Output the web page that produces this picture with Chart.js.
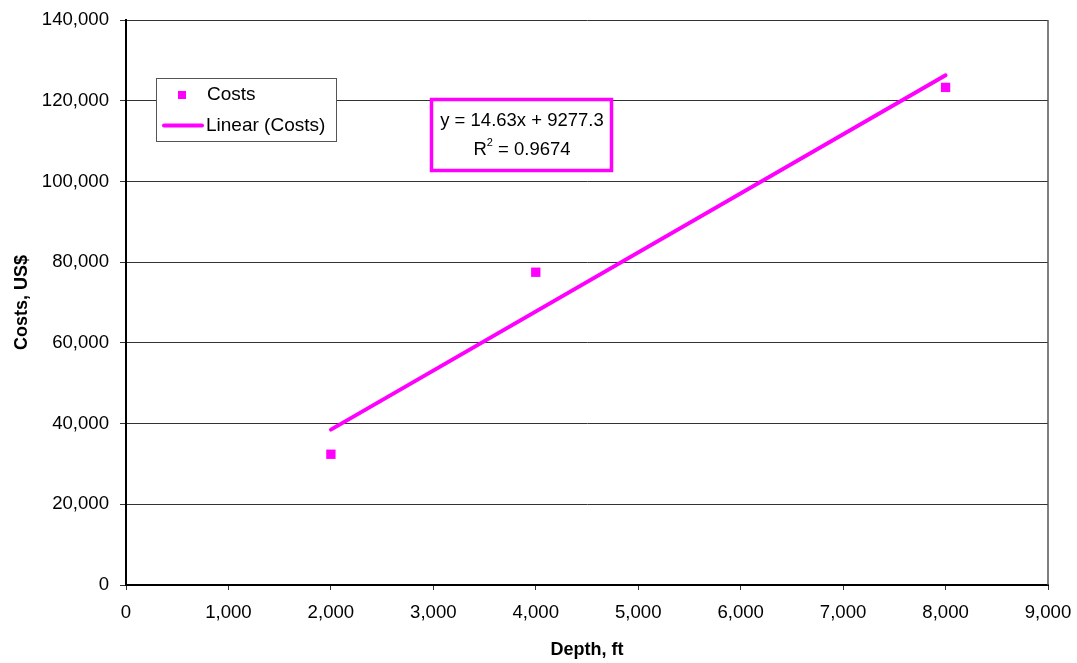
<!DOCTYPE html>
<html>
<head>
<meta charset="utf-8">
<script src="https://cdn.jsdelivr.net/npm/chart.js@4"></script>
<style>
  html, body { margin: 0; padding: 0; background: #fff; }
  #c { display: block; }
</style>
</head>
<body>
<canvas id="c" width="1077" height="663"></canvas>
<script>
// ---- data ----
const depths = [2000, 4000, 8000];          // ft
const costs = [32400, 77500, 123300];       // US$
const trendDepths = [2000, 8000];           // ends of the linear trend line
const trendCosts = [38500, 126300];
const xTicks = [0, 1000, 2000, 3000, 4000, 5000, 6000, 7000, 8000, 9000];
const yTicks = [0, 20000, 40000, 60000, 80000, 100000, 120000, 140000];
const seriesName = 'Costs';
const trendName = 'Linear (Costs)';
const equationText = 'y = 14.63x + 9277.3';
const r2Text = '0.9674';
const xTitle = 'Depth, ft';
const yTitle = 'Costs, US$';

const MAGENTA = '#FF00FF';
const FONT = "'Liberation Sans', Arial, sans-serif";
Chart.defaults.font.family = FONT;
Chart.defaults.color = '#000';

const fmt = v => Number(v).toLocaleString('en-US');

const overlay = {
  id: 'overlay',
  beforeDatasetsDraw(chart) {
    const {ctx, chartArea: a} = chart;
    ctx.save();
    ctx.strokeStyle = '#555';
    ctx.lineWidth = 1.5;
    ctx.beginPath();
    ctx.moveTo(a.right, a.top);
    ctx.lineTo(a.right, a.bottom);
    ctx.stroke();
    ctx.restore();
  },
  afterDraw(chart) {
    const {ctx} = chart;
    ctx.save();
    // legend box
    ctx.fillStyle = '#fff';
    ctx.fillRect(156, 78, 180, 64);
    ctx.strokeStyle = '#555';
    ctx.lineWidth = 1;
    ctx.strokeRect(156.5, 78.5, 180, 63);
    ctx.fillStyle = MAGENTA;
    ctx.fillRect(178, 91, 8, 8);
    ctx.strokeStyle = MAGENTA;
    ctx.lineWidth = 4;
    ctx.lineCap = 'round';
    ctx.beginPath();
    ctx.moveTo(164, 125.5);
    ctx.lineTo(202, 125.5);
    ctx.stroke();
    ctx.fillStyle = '#000';
    ctx.font = '19px ' + FONT;
    ctx.textBaseline = 'middle';
    ctx.textAlign = 'left';
    ctx.fillText(seriesName, 207, 95);
    ctx.fillText(trendName, 206, 126);

    // equation box
    ctx.fillStyle = '#fff';
    ctx.fillRect(430, 98, 183, 74);
    ctx.strokeStyle = MAGENTA;
    ctx.lineWidth = 3.5;
    ctx.lineCap = 'butt';
    ctx.strokeRect(431.5, 99.5, 180, 71);
    ctx.fillStyle = '#000';
    ctx.font = '18.5px ' + FONT;
    ctx.textAlign = 'center';
    ctx.fillText(equationText, 522, 121);
    // R^2 line
    const rest = ' = ' + r2Text;
    const wR = ctx.measureText('R').width;
    const wRest = ctx.measureText(rest).width;
    ctx.font = '11px ' + FONT;
    const wSup = ctx.measureText('2').width;
    const total = wR + wSup + wRest;
    let x0 = 522 - total / 2;
    ctx.textAlign = 'left';
    ctx.font = '18.5px ' + FONT;
    ctx.fillText('R', x0, 150);
    ctx.font = '11px ' + FONT;
    ctx.fillText('2', x0 + wR, 143);
    ctx.font = '18.5px ' + FONT;
    ctx.fillText(rest, x0 + wR + wSup, 150);
    ctx.restore();
  }
};

new Chart(document.getElementById('c'), {
  type: 'scatter',
  data: {
    datasets: [
      {
        label: seriesName,
        data: depths.map((d, i) => ({x: d, y: costs[i]})),
        pointStyle: 'rect',
        pointRadius: 6.6,
        pointBackgroundColor: MAGENTA,
        pointBorderWidth: 0,
        showLine: false,
        order: 1
      },
      {
        label: trendName,
        type: 'line',
        data: trendDepths.map((d, i) => ({x: d, y: trendCosts[i]})),
        borderColor: MAGENTA,
        borderWidth: 4,
        borderCapStyle: 'round',
        pointRadius: 0,
        fill: false,
        order: 2
      }
    ]
  },
  options: {
    responsive: false,
    animation: false,
    devicePixelRatio: 1,
    layout: { padding: { left: 0, right: 29, top: 20, bottom: 0 } },
    plugins: { legend: { display: false }, tooltip: { enabled: false } },
    scales: {
      x: {
        type: 'linear',
        min: xTicks[0],
        max: xTicks[xTicks.length - 1],
        afterBuildTicks: s => { s.ticks = xTicks.map(v => ({value: v})); },
        afterFit: s => { s.height = 78; s.paddingRight = 0; s.paddingLeft = 0; },
        ticks: { font: { size: 18.6 }, color: '#000', padding: 12, callback: fmt, maxRotation: 0 },
        grid: { drawOnChartArea: false, drawTicks: true, tickLength: 5, color: '#333' },
        border: { display: true, color: '#000', width: 2 },
        title: { display: true, text: xTitle, font: { size: 18, weight: 'bold' }, color: '#000', padding: { top: 0, bottom: 2 } }
      },
      y: {
        type: 'linear',
        min: yTicks[0],
        max: yTicks[yTicks.length - 1],
        afterBuildTicks: s => { s.ticks = yTicks.map(v => ({value: v})); },
        afterFit: s => { s.width = 126; s.paddingTop = 0; s.paddingBottom = 0; },
        ticks: { font: { size: 18.6 }, color: '#000', padding: 11, callback: fmt },
        grid: { color: '#333', lineWidth: 1, tickLength: 6 },
        border: { display: true, color: '#000', width: 2 },
        title: { display: true, text: yTitle, font: { size: 18, weight: 'bold' }, color: '#000', padding: { top: 11, bottom: 0 } }
      }
    }
  },
  plugins: [overlay]
});
</script>
</body>
</html>
